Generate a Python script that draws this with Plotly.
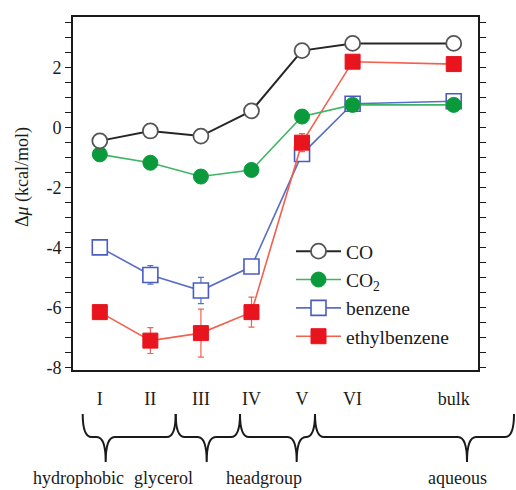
import plotly.graph_objects as go

# ---- data ----
positions = [1, 2, 3, 4, 5, 6, 8]
tick_labels = ["I", "II", "III", "IV", "V", "VI", "bulk"]
y_tick_vals = [-8, -6, -4, -2, 0, 2]
y_tick_text = ["-8", "-6", "-4", "-2", "0", "2"]

co = [-0.44, -0.11, -0.28, 0.56, 2.57, 2.81, 2.81]
co2 = [-0.89, -1.17, -1.63, -1.41, 0.37, 0.76, 0.76]
benzene = [-3.99, -4.91, -5.43, -4.63, -0.88, 0.80, 0.88]
benzene_err = [0, 0.31, 0.44, 0.15, 0.10, 0, 0]
ethylbenzene = [-6.15, -7.10, -6.85, -6.15, -0.50, 2.20, 2.12]
ethylbenzene_err = [0, 0.43, 0.80, 0.50, 0.30, 0, 0]

region_names = ["hydrophobic", "glycerol", "headgroup", "aqueous"]

FONT = "Liberation Serif"

# ---- figure geometry (pixels) ----
W, H = 516, 490
ML, MR, MT, MB = 73, 38, 17, 120
PW, PH = W - ML - MR, H - MT - MB


def px(x):
    return (x - ML) / PW


def py(y):
    return (H - MB - y) / PH


fig = go.Figure()

fig.add_trace(go.Scatter(
    x=positions, y=benzene, name="benzene", mode="lines+markers", legendrank=3,
    line=dict(color="#5b6ec6", width=1.6),
    marker=dict(symbol="square", size=15, color="white", line=dict(color="#4a5cc0", width=1.6)),
    error_y=dict(type="data", array=benzene_err, color="#5b6ec6", thickness=1.2, width=3),
))
fig.add_trace(go.Scatter(
    x=positions, y=ethylbenzene, name="ethylbenzene", mode="lines+markers", legendrank=4,
    line=dict(color="#f2604e", width=1.6),
    marker=dict(symbol="square", size=15, color="#e8141e", line=dict(color="#e8141e", width=1)),
    error_y=dict(type="data", array=ethylbenzene_err, color="#f2604e", thickness=1.2, width=3),
))
fig.add_trace(go.Scatter(
    x=positions, y=co2, name="CO<sub>2</sub>", mode="lines+markers", legendrank=2,
    line=dict(color="#40b466", width=1.6),
    marker=dict(symbol="circle", size=15, color="#0a9a3c", line=dict(color="#0a9a3c", width=1)),
))
fig.add_trace(go.Scatter(
    x=positions, y=co, name="CO", mode="lines+markers", legendrank=1,
    line=dict(color="#262626", width=2),
    marker=dict(symbol="circle", size=15, color="white", line=dict(color="#555555", width=1.8)),
))

# ---- braces under the axis ----
braces = [(82.7, 105.7, 175.7), (175.7, 206.7, 240.0), (240.0, 296.7, 315.0), (315.0, 467.0, 514.0)]
y_top, y_h, y_tip, r = 414, 437, 462, 9
for x0, xt, x1 in braces:
    path = (
        f"M{px(x0)},{py(y_top)} "
        f"Q{px(x0)},{py(y_h)} {px(x0 + r)},{py(y_h)} "
        f"L{px(xt - r)},{py(y_h)} "
        f"Q{px(xt)},{py(y_h)} {px(xt)},{py(y_tip)} "
        f"Q{px(xt)},{py(y_h)} {px(xt + r)},{py(y_h)} "
        f"L{px(x1 - r)},{py(y_h)} "
        f"Q{px(x1)},{py(y_h)} {px(x1)},{py(y_top)}"
    )
    fig.add_shape(type="path", path=path, xref="paper", yref="paper",
                  line=dict(color="#1a1a1a", width=2))

label_x = [78, 163, 264, 457]
for name, lx in zip(region_names, label_x):
    fig.add_annotation(text=name, x=px(lx), y=py(478), xref="paper", yref="paper",
                       showarrow=False, xanchor="center", yanchor="middle",
                       font=dict(family=FONT, size=18, color="#1a1a1a"))

# y-axis title
fig.add_annotation(text="Δ<i>μ</i> (kcal/mol)", x=px(22), y=py(177), xref="paper", yref="paper",
                   showarrow=False, textangle=-90, xanchor="center", yanchor="middle",
                   font=dict(family=FONT, size=18, color="#1a1a1a"))

fig.update_layout(
    width=W, height=H,
    margin=dict(l=ML, r=MR, t=MT, b=MB, autoexpand=False),
    paper_bgcolor="white", plot_bgcolor="white",
    font=dict(family=FONT, color="#1a1a1a"),
    showlegend=True,
    legend=dict(x=px(291), y=py(232), xanchor="left", yanchor="top",
                bgcolor="rgba(0,0,0,0)", itemwidth=45,
                font=dict(family=FONT, size=19.5, color="#1a1a1a")),
    xaxis=dict(range=[0.47, 8.48], tickvals=positions, ticktext=tick_labels,
               showline=True, linecolor="#1a1a1a", linewidth=1.6, mirror=True,
               ticks="", showgrid=False, zeroline=False, ticklabelstandoff=12,
               automargin=False,
               tickfont=dict(family=FONT, size=18, color="#1a1a1a")),
    yaxis=dict(range=[-8.08, 3.69], tickvals=y_tick_vals, ticktext=y_tick_text,
               showline=True, linecolor="#1a1a1a", linewidth=1.6, mirror="ticks",
               ticks="outside", ticklen=6, tickwidth=1.3, tickcolor="#1a1a1a",
               minor=dict(dtick=0.5, tick0=0, ticks="outside", ticklen=6, tickwidth=1.3,
                          tickcolor="#1a1a1a", showgrid=False),
               showgrid=False, zeroline=False, automargin=False,
               tickfont=dict(family=FONT, size=18, color="#1a1a1a")),
)

fig.write_html("out.html", config={"displayModeBar": False},
               post_script="document.body.style.margin='0';")
